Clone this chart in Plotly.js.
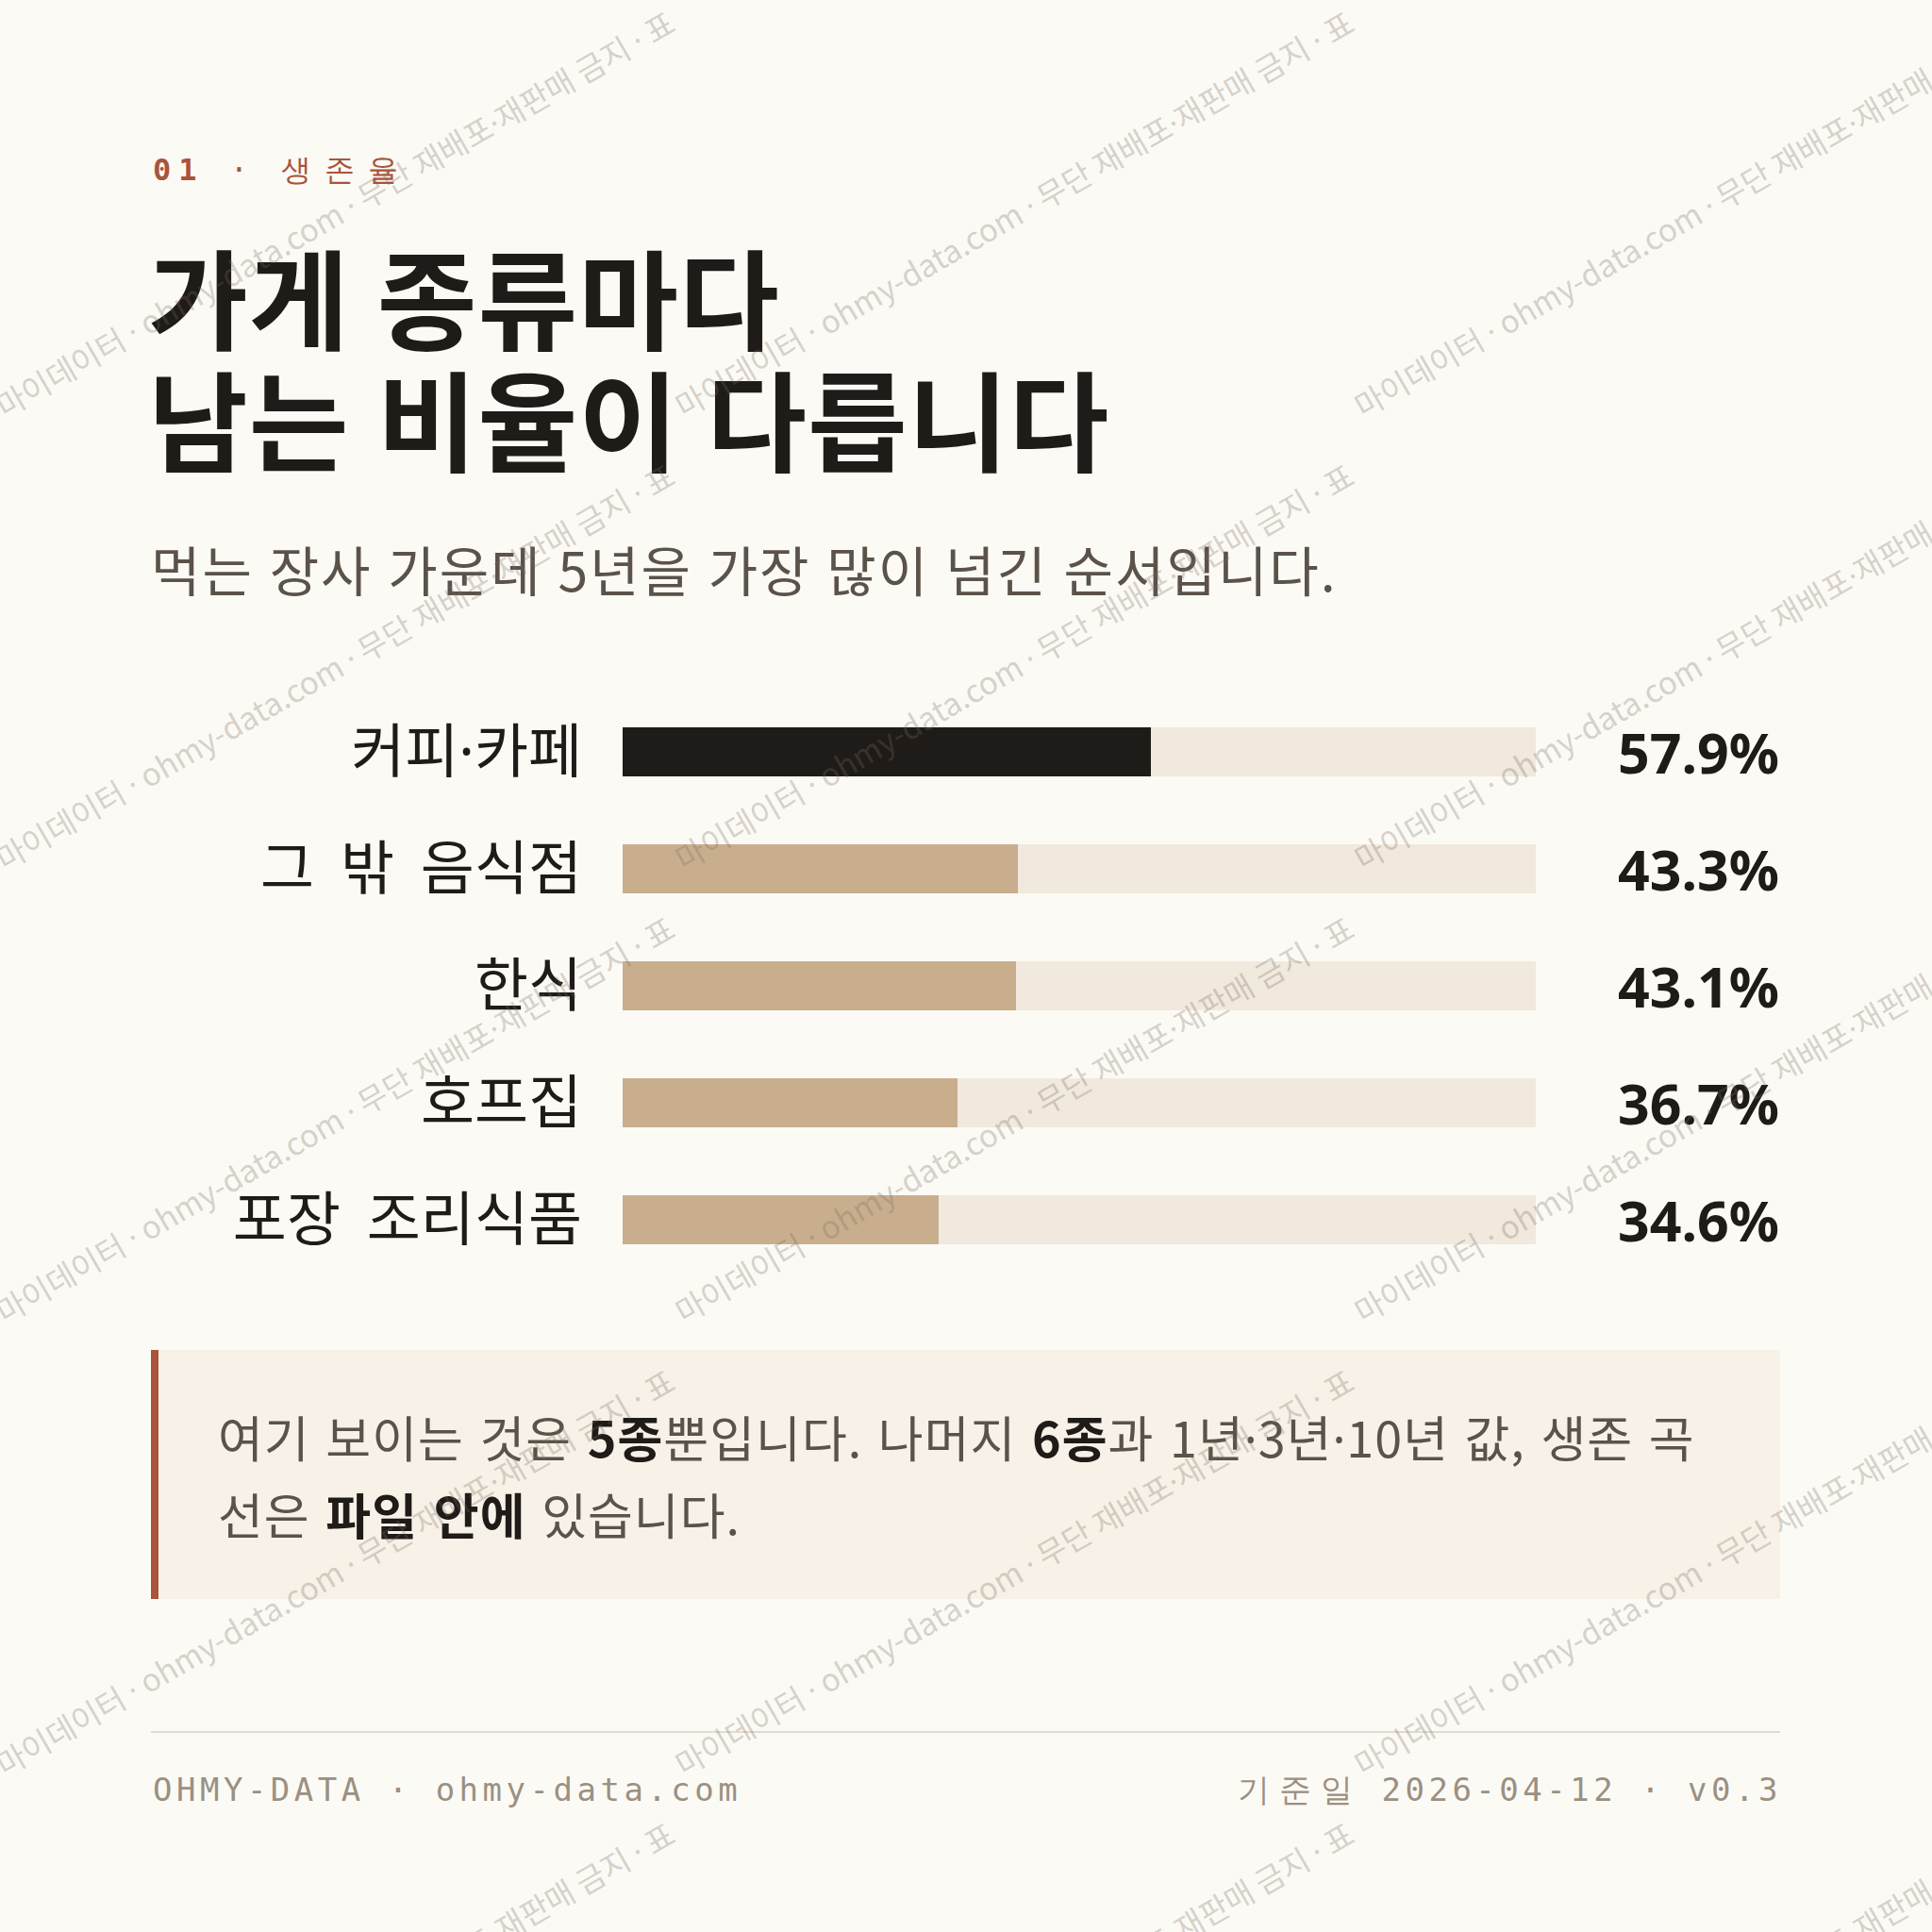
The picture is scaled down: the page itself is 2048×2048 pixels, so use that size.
<!DOCTYPE html>
<html><head><meta charset="utf-8">
<script src="https://cdn.plot.ly/plotly-3.0.1.min.js"></script>
<style>html,body{margin:0;padding:0;background:#fcfaf5;}#chart{width:2048px;height:2048px;}</style>
</head><body><div id="chart"></div>
<script>
// ---- data ----
const categories = ['커피·카페', '그 밖 음식점', '한식', '호프집', '포장 조리식품'];
const survival5y = [57.9, 43.3, 43.1, 36.7, 34.6];
const trackMax = 100;
const valueSuffix = '%';

// ---- text ----
const eyebrowNumber = '01';
const eyebrowLabel = '생존율';
const titleLines = ['가게 종류마다', '남는 비율이 다릅니다'];
const subtitle = '먹는 장사 가운데 5년을 가장 많이 넘긴 순서입니다.';
const noteLines = [
  '여기 보이는 것은 <b>5종</b>뿐입니다. 나머지 <b>6종</b>과 1년·3년·10년 값, 생존 곡',
  '선은 <b>파일 안에</b> 있습니다.'
];
const footerLeft = 'OHMY-DATA · ohmy-data.com';
const footerRightLabel = '기준일';
const footerRightValue = '2026-04-12 · v0.3';
const watermarkText = '마이데이터 · ohmy-data.com · 무단 재배포·재판매 금지 · 표';

// ---- style ----
const C = {
  bg: '#fcfaf5', ink: '#1f1b18', body: '#5b524a', accent: '#a8553b',
  tan: '#c9ae8e', track: '#f1e9dd', noteBg: '#f8f1e7', rule: '#e3dbcf',
  foot: '#9b9081', wm: 'rgba(118,108,98,0.30)'
};
const KR = '"Noto Sans CJK KR", "Noto Sans", sans-serif';
const MONO = '"DejaVu Sans Mono", "Liberation Mono", monospace';
const W = 2048, H = 2048;
const px = v => v / W;
const py = v => 1 - v / H;
const narrowDot = s => s.replace(/·/g, '<span style="font-family:\'Noto Sans\'">·</span>');
const spaced = (s, ls, ws) => '<span style="letter-spacing:' + ls + 'px;word-spacing:' + ws + 'px">' + s + '</span>';

const maxIdx = survival5y.indexOf(Math.max(...survival5y));
const barColors = survival5y.map((v, i) => i === maxIdx ? C.ink : C.tan);

const traces = [
  { type: 'bar', orientation: 'h', y: categories, x: categories.map(() => trackMax),
    marker: { color: C.track }, width: 0.42, hoverinfo: 'skip' },
  { type: 'bar', orientation: 'h', y: categories, x: survival5y,
    marker: { color: barColors }, width: 0.42, hoverinfo: 'skip' }
];

const ann = [];
const A = o => ann.push(Object.assign({ showarrow: false, xref: 'paper', yref: 'paper' }, o));

// eyebrow
A({ x: px(160), y: py(180), xanchor: 'left', yanchor: 'middle',
    text: '<span style="letter-spacing:8px"><b>' + eyebrowNumber + '</b> · </span><span style="letter-spacing:14px">' + eyebrowLabel + '</span>',
    font: { family: MONO, size: 32, color: C.accent } });
// title
titleLines.forEach((t, i) => A({ x: px(155), y: py(312 + i * 129), xanchor: 'left', yanchor: 'middle',
    text: spaced(t, 1, 2), font: { family: KR, size: 115, color: C.ink, weight: 700 } }));
// subtitle
A({ x: px(158), y: py(602), xanchor: 'left', yanchor: 'middle', text: spaced(subtitle, 2, 2),
    font: { family: KR, size: 57, color: C.body } });
// values
survival5y.forEach((v, i) => A({ xref: 'paper', yref: 'y', x: px(1888), y: categories[i],
    xanchor: 'right', yanchor: 'middle', text: v.toFixed(1) + valueSuffix,
    font: { family: '"Noto Sans", sans-serif', size: 59, color: C.ink, weight: 700 } }));
// note
noteLines.forEach((t, i) => A({ x: px(229), y: py(1522 + i * 82), xanchor: 'left', yanchor: 'middle',
    text: spaced(narrowDot(t.replace(/<b>(.*?)<\/b>/g, '<span style="color:' + C.ink + '"><b>$1</b></span>')), 1, 4),
    font: { family: KR, size: 52, color: C.body } }));
// footer
A({ x: px(160), y: py(1897), xanchor: 'left', yanchor: 'middle',
    text: '<span style="letter-spacing:4.5px">' + footerLeft + '</span>',
    font: { family: MONO, size: 34, color: C.foot } });
A({ x: px(1891), y: py(1897), xanchor: 'right', yanchor: 'middle',
    text: '<span style="letter-spacing:10px">' + footerRightLabel + '</span> <span style="letter-spacing:4.5px">' + footerRightValue + '</span>',
    font: { family: MONO, size: 34, color: C.foot } });
// watermark tiles
for (let r = 0; r < 5; r++) {
  for (let c = 0; c < 3; c++) {
    const sx = -1 + c * 720, sy = 447 + r * 480;
    A({ x: px(sx - 16), y: py(sy + 9), xanchor: 'left', yanchor: 'bottom', textangle: -30,
        text: narrowDot(watermarkText), font: { family: KR, size: 33, color: C.wm } });
  }
}

const shapes = [
  { type: 'rect', xref: 'paper', yref: 'paper', x0: px(160), x1: px(1887), y0: py(1695), y1: py(1431),
    fillcolor: C.noteBg, line: { width: 0 }, layer: 'below' },
  { type: 'rect', xref: 'paper', yref: 'paper', x0: px(160), x1: px(168), y0: py(1695), y1: py(1431),
    fillcolor: C.accent, line: { width: 0 }, layer: 'below' },
  { type: 'line', xref: 'paper', yref: 'paper', x0: px(160), x1: px(1887), y0: py(1836), y1: py(1836),
    line: { color: C.rule, width: 2 } }
];

const layout = {
  width: W, height: H, margin: { l: 0, r: 0, t: 0, b: 0, pad: 0 },
  paper_bgcolor: C.bg, plot_bgcolor: 'rgba(0,0,0,0)',
  barmode: 'overlay', showlegend: false, bargap: 0,
  xaxis: { domain: [px(660), px(1628)], range: [0, trackMax], visible: false, fixedrange: true },
  yaxis: { domain: [py(1355), py(735)], type: 'category', range: [categories.length - 0.5, -0.5],
    tickmode: 'array', tickvals: categories,
    ticktext: categories.map(c => '<span style="word-spacing:14px">' + narrowDot(c) + '</span>'),
    showgrid: false, zeroline: false, showline: false, ticks: '', automargin: false,
    ticklabelstandoff: 42, tickfont: { family: KR, size: 62, color: C.ink }, fixedrange: true },
  annotations: ann, shapes: shapes,
  font: { family: KR }
};

Plotly.newPlot('chart', traces, layout, { displayModeBar: false, staticPlot: true });
</script></body></html>
